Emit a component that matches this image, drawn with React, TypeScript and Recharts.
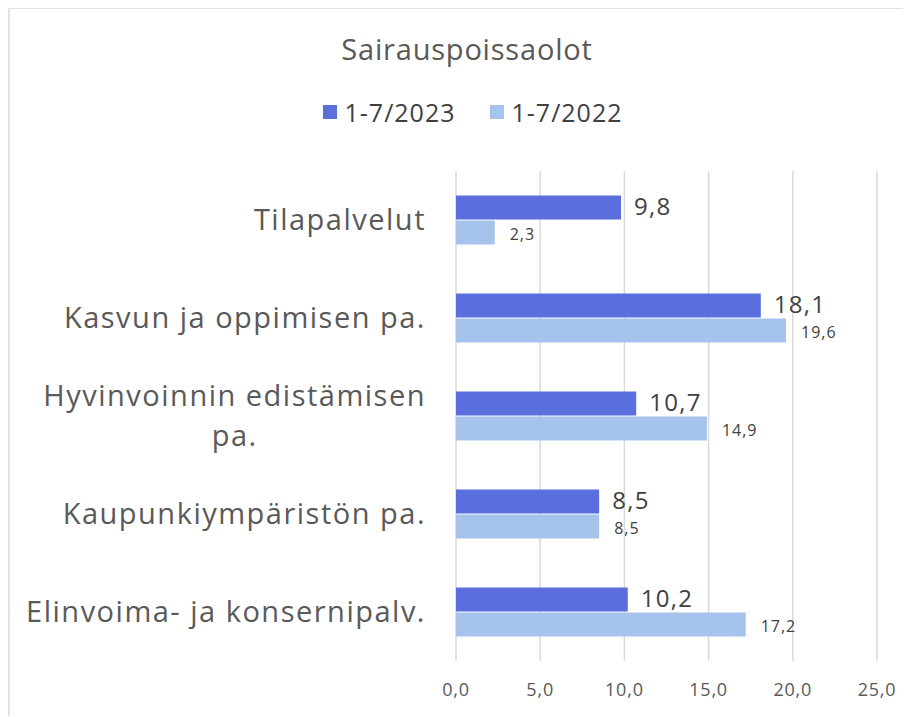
import React from "react";
import { BarChart, Bar, XAxis, YAxis, CartesianGrid, Legend, LabelList } from "recharts";

const categories = [
  "Tilapalvelut",
  "Kasvun ja oppimisen pa.",
  "Hyvinvoinnin edistämisen pa.",
  "Kaupunkiympäristön pa.",
  "Elinvoima- ja konsernipalv.",
];
const values2023 = [9.8, 18.1, 10.7, 8.5, 10.2];
const values2022 = [2.3, 19.6, 14.9, 8.5, 17.2];
const xTicks = [0, 5, 10, 15, 20, 25];
const seriesNames = ["1-7/2023", "1-7/2022"];
const title = "Sairauspoissaolot";

const data = categories.map((c, i) => ({ name: c, a: values2023[i], b: values2022[i] }));

const FONT = "'Open Sans', sans-serif";
const DARK = "#5A6FDD";
const LIGHT = "#A5C3EB";
const fmt = (v: number) => v.toFixed(1).replace(".", ",");

const TICK_SIZE = 29;
const TICK_LS = 1.5;
let ctx: CanvasRenderingContext2D | null = null;
const measure = (t: string) => {
  if (!ctx) ctx = document.createElement("canvas").getContext("2d");
  if (!ctx) return t.length * TICK_SIZE * 0.55;
  ctx.font = `${TICK_SIZE}px 'Open Sans'`;
  return ctx.measureText(t).width + t.length * TICK_LS;
};

const MAXW = 410;
const YTick = (props: any) => {
  const { x, y, payload } = props;
  const words = String(payload.value).split(" ");
  const lines: string[] = [];
  let cur = "";
  for (const w of words) {
    const test = cur ? cur + " " + w : w;
    if (measure(test) > MAXW && cur) {
      lines.push(cur);
      cur = w;
    } else cur = test;
  }
  if (cur) lines.push(cur);
  const right = x - 22;
  const maxW = Math.max(...lines.map((l) => measure(l)));
  const cx = right - maxW / 2;
  const lh = 40;
  const startY = y - ((lines.length - 1) * lh) / 2;
  return (
    <g>
      {lines.map((l, i) => (
        <text
          key={i}
          x={lines.length > 1 ? cx : right}
          y={startY + i * lh}
          dy="0.35em"
          textAnchor={lines.length > 1 ? "middle" : "end"}
          fontSize={TICK_SIZE}
          fontFamily={FONT}
          letterSpacing={TICK_LS}
          fill="#595959"
        >
          {l}
        </text>
      ))}
    </g>
  );
};

const LegendContent = () => (
  <div style={{ display: "flex", justifyContent: "center", gap: 34, fontFamily: FONT, fontSize: 25, letterSpacing: 1, color: "#404040" }}>
    {seriesNames.map((n, i) => (
      <div key={n} style={{ display: "flex", alignItems: "center", gap: 8 }}>
        <span style={{ width: 14, height: 14, background: i === 0 ? DARK : LIGHT, display: "inline-block" }} />
        <span>{n}</span>
      </div>
    ))}
  </div>
);

const DarkLabel = (props: any) => {
  const { x, y, width, height, value } = props;
  return (
    <text x={x + width + 13} y={y + height / 2 - 1} dy="0.35em" fill="#404040" fontSize={24} letterSpacing={1.3} fontFamily={FONT}>
      {fmt(Number(value))}
    </text>
  );
};
const LightLabel = (props: any) => {
  const { x, y, width, height, value } = props;
  return (
    <text x={x + width + 15} y={y + height / 2 + 2} dy="0.35em" fill="#404040" fontSize={16} letterSpacing={1} fontFamily={FONT}>
      {fmt(Number(value))}
    </text>
  );
};

export default function App() {
  return (
    <div style={{ position: "relative", width: 903, height: 709, borderLeft: "2px solid #e3e3e3", borderTop: "2px solid #e3e3e3", marginTop: -1, boxSizing: "border-box", background: "#fff" }}>
      <div style={{ position: "absolute", top: 20, left: 0, width: 914, textAlign: "center", fontFamily: FONT, fontSize: 29, letterSpacing: 0.8, color: "#595959" }}>
        {title}
      </div>
      <BarChart
        width={901}
        height={707}
        data={data}
        layout="vertical"
        margin={{ top: 128, right: 34, bottom: 24, left: 0 }}
        barCategoryGap="25%"
        barGap={1}
      >
        <CartesianGrid horizontal={false} stroke="#d9d9d9" strokeWidth={1.5} />
        <XAxis
          type="number"
          domain={[0, 25]}
          ticks={xTicks}
          tickFormatter={fmt}
          axisLine={false}
          tickLine={false}
          tick={{ fontSize: 18, fill: "#595959", fontFamily: FONT, letterSpacing: 0.8 }}
          tickMargin={16}
          height={31}
        />
        <YAxis type="category" dataKey="name" width={446} axisLine={false} tickLine={false} tick={<YTick />} />
        <Legend
          verticalAlign="top"
          content={<LegendContent />}
          wrapperStyle={{ position: "absolute", top: 86, left: 0, width: 925 }}
        />
        <Bar dataKey="a" name={seriesNames[0]} fill={DARK} isAnimationActive={false}>
          <LabelList dataKey="a" content={<DarkLabel />} />
        </Bar>
        <Bar dataKey="b" name={seriesNames[1]} fill={LIGHT} isAnimationActive={false}>
          <LabelList dataKey="b" content={<LightLabel />} />
        </Bar>
      </BarChart>
    </div>
  );
}
